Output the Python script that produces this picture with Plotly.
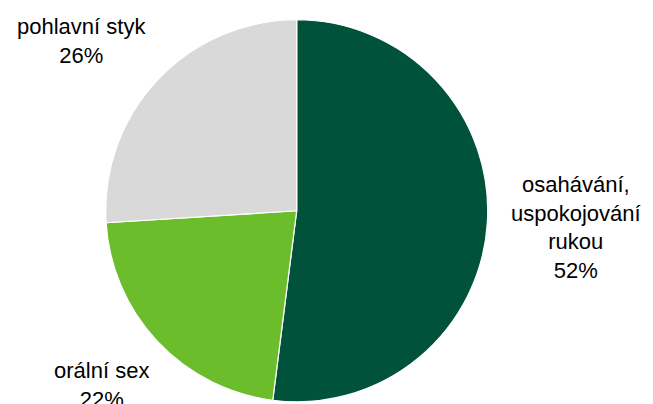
import plotly.graph_objects as go

# Slice data, drawn clockwise from 12 o'clock
categories = ["osahávání,<br>uspokojování<br>rukou", "orální sex", "pohlavní styk"]
values = [52, 22, 26]
colors = ["#00533A", "#6BBD2B", "#D9D9D9"]

W, H = 653, 404

fig = go.Figure(
    go.Pie(
        labels=categories,
        values=values,
        sort=False,
        direction="clockwise",
        rotation=0,
        marker=dict(colors=colors, line=dict(color="white", width=1.2)),
        textinfo="none",
        hoverinfo="label+percent",
        domain=dict(x=[105.7 / W, 487.7 / W], y=[1.5 / H, 383.5 / H + 1.5 / H]),
        showlegend=False,
    )
)

# Outside labels: category name with its share
label_pos = {
    "osahávání,<br>uspokojování<br>rukou": (576, 228),
    "orální sex": (101, 385),
    "pohlavní styk": (81, 41),
}
total = sum(values)
for cat, val in zip(categories, values):
    x, y = label_pos[cat]
    fig.add_annotation(
        x=x / W, y=1 - y / H, xref="paper", yref="paper",
        text=f"{cat}<br>{round(100 * val / total)}%",
        showarrow=False, xanchor="center", yanchor="middle",
        font=dict(family="Liberation Sans, Arial, sans-serif", size=22, color="#000000"),
        align="center",
    )

fig.update_layout(
    width=W, height=H,
    margin=dict(l=0, r=0, t=0, b=0),
    paper_bgcolor="white",
    plot_bgcolor="white",
)

fig.write_html("out.html")
